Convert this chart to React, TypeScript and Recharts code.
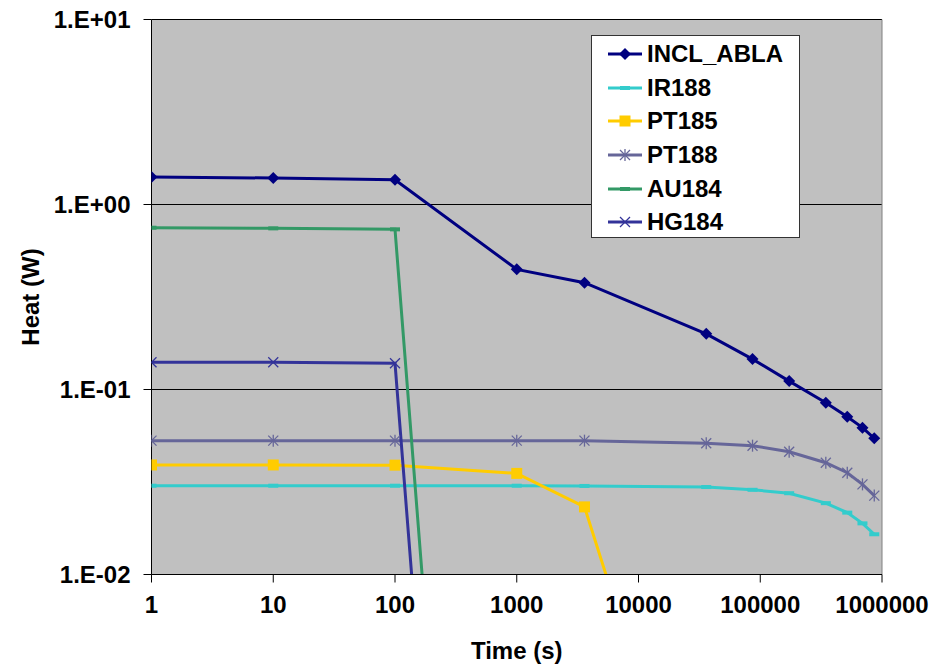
import {
  CartesianGrid,
  Label,
  Legend,
  Line,
  LineChart,
  ReferenceLine,
  XAxis,
  YAxis,
} from "recharts";

// sample times (s)
const times = [1, 10, 100, 1000, 3600, 36000, 86400, 172800, 345600, 518400, 691200, 864000];

const inclAbla = [1.41, 1.39, 1.36, 0.446, 0.378, 0.2, 0.146, 0.111, 0.0849, 0.0713, 0.0622, 0.0545];
const ir188 = [0.0302, 0.0302, 0.0302, 0.0302, 0.0301, 0.0297, 0.0287, 0.0275, 0.0243, 0.0216, 0.0189, 0.0165];
const pt185 = [0.0391, 0.0391, 0.039, 0.0352, 0.0232, 0.000196];
const pt188 = [0.0529, 0.0529, 0.0529, 0.0529, 0.0529, 0.0512, 0.0497, 0.0461, 0.0402, 0.0355, 0.0307, 0.0267];
const au184 = [0.749, 0.743, 0.734, 3.0e-9];
const hg184 = [0.1403, 0.1403, 0.1387, 6e-10];

const xTicks = [1, 10, 100, 1000, 10000, 100000, 1000000];
const yTicks = [0.01, 0.1, 1, 10];
const yTickLabels = ["1.E-02", "1.E-01", "1.E+00", "1.E+01"];

type MarkerKind = "diamond" | "square" | "star" | "x" | "dash";

const series = [
  { key: "INCL_ABLA", values: inclAbla, color: "#000080", marker: "diamond" as MarkerKind },
  { key: "IR188", values: ir188, color: "#33CCCC", marker: "dash" as MarkerKind },
  { key: "PT185", values: pt185, color: "#FFCC00", marker: "square" as MarkerKind },
  { key: "PT188", values: pt188, color: "#666699", marker: "star" as MarkerKind },
  { key: "AU184", values: au184, color: "#339966", marker: "dash" as MarkerKind },
  { key: "HG184", values: hg184, color: "#333399", marker: "x" as MarkerKind },
];

const font = "'Liberation Sans', Arial, sans-serif";
const fontSize = 24;

function Marker({ kind, cx, cy, color }: { kind: MarkerKind; cx: number; cy: number; color: string }) {
  if (kind === "diamond") {
    return (
      <polygon
        points={`${cx},${cy - 6} ${cx + 6},${cy} ${cx},${cy + 6} ${cx - 6},${cy}`}
        fill={color}
      />
    );
  }
  if (kind === "square") {
    return <rect x={cx - 5.5} y={cy - 5.5} width={11} height={11} fill={color} />;
  }
  if (kind === "dash") {
    return <rect x={cx - 5} y={cy - 2} width={10} height={4} fill={color} />;
  }
  const r = 5;
  return (
    <g stroke={color} strokeWidth={1.3}>
      <line x1={cx - r} y1={cy - r} x2={cx + r} y2={cy + r} />
      <line x1={cx - r} y1={cy + r} x2={cx + r} y2={cy - r} />
      {kind === "star" && <line x1={cx} y1={cy - 6} x2={cx} y2={cy + 6} />}
    </g>
  );
}

function renderLegend() {
  return (
    <div
      style={{
        width: 209,
        height: 203,
        boxSizing: "border-box",
        border: "1px solid #333",
        background: "#fff",
        paddingTop: 1,
        paddingLeft: 16,
      }}
    >
      {series.map((s) => (
        <div key={s.key} style={{ height: 33.7, display: "flex", alignItems: "center" }}>
          <svg width={34} height={14} style={{ display: "block" }}>
            <line x1={0} y1={7} x2={34} y2={7} stroke={s.color} strokeWidth={3} />
            <Marker kind={s.marker} cx={17} cy={7} color={s.color} />
          </svg>
          <span
            style={{
              marginLeft: 5,
              fontFamily: font,
              fontWeight: 700,
              fontSize,
              color: "#000",
              lineHeight: 1,
            }}
          >
            {s.key}
          </span>
        </div>
      ))}
    </div>
  );
}

export default function App() {
  return (
    <div style={{ position: "absolute", left: 0, top: 0, background: "#fff" }}>
      <LineChart
        width={944}
        height={665}
        margin={{ top: 19.5, right: 62, bottom: 30.5, left: 11.5 }}
        style={{ fontFamily: font }}
      >
        <CartesianGrid vertical={false} stroke="#000" fill="#C0C0C0" fillOpacity={1} />
        <XAxis
          dataKey="t"
          type="number"
          scale="log"
          domain={[1, 1000000]}
          ticks={xTicks}
          interval={0}
          allowDataOverflow
          height={60}
          tickSize={8}
          tickMargin={13}
          axisLine={{ stroke: "#000" }}
          tickLine={{ stroke: "#000" }}
          tick={{ fill: "#000", fontSize, fontWeight: 700, fontFamily: font }}
        >
          <Label
            content={({ viewBox }: any) => (
              <text
                x={viewBox.x + viewBox.width / 2}
                y={viewBox.y + 76}
                textAnchor="middle"
                dominantBaseline="central"
                fontFamily={font}
                fontWeight={700}
                fontSize={fontSize}
                fill="#000"
              >
                Time (s)
              </text>
            )}
          />
        </XAxis>
        <YAxis
          type="number"
          scale="log"
          domain={[0.01, 10]}
          ticks={yTicks}
          interval={0}
          allowDataOverflow
          width={140}
          tickSize={8}
          tickMargin={13}
          axisLine={{ stroke: "#000" }}
          tickLine={{ stroke: "#000" }}
          tickFormatter={(v: number) => yTickLabels[yTicks.indexOf(v)] ?? String(v)}
          tick={{ fill: "#000", fontSize, fontWeight: 700, fontFamily: font }}
        >
          <Label
            content={({ viewBox }: any) => (
              <text
                x={0}
                y={0}
                transform={`translate(${viewBox.x + 19} ${viewBox.y + viewBox.height / 2}) rotate(-90)`}
                textAnchor="middle"
                dominantBaseline="central"
                fontFamily={font}
                fontWeight={700}
                fontSize={fontSize}
                fill="#000"
              >
                Heat (W)
              </text>
            )}
          />
        </YAxis>
        <ReferenceLine x={1000000} stroke="#808080" />
        <Legend
          layout="horizontal"
          verticalAlign="middle"
          align="center"
          content={renderLegend}
          wrapperStyle={{ left: 591, top: 35, width: 209, height: 203 }}
        />
        {series.map((s) => (
          <Line
            key={s.key}
            name={s.key}
            data={s.values.map((v, i) => ({ t: times[i], v }))}
            dataKey="v"
            stroke={s.color}
            strokeWidth={3}
            isAnimationActive={false}
            dot={(p: any) => (
              <g key={`${s.key}-${p.index}`}>
                {p.cx != null && p.cy != null && (
                  <Marker kind={s.marker} cx={p.cx} cy={p.cy} color={s.color} />
                )}
              </g>
            )}
            activeDot={false}
          />
        ))}
      </LineChart>
    </div>
  );
}
